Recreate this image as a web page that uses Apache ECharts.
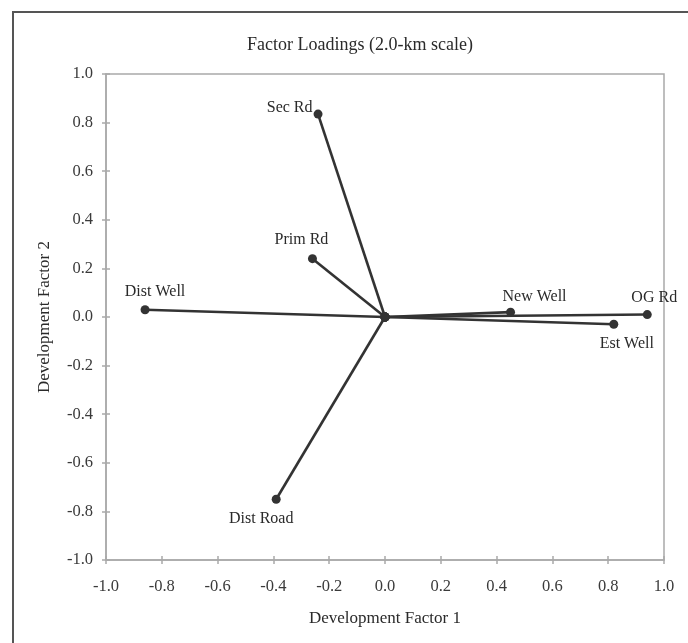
<!DOCTYPE html>
<html>
<head>
<meta charset="utf-8">
<script src="https://cdn.jsdelivr.net/npm/echarts@6/dist/echarts.min.js"></script>
<style>
  html, body { margin: 0; padding: 0; background: #fff; }
  #main { width: 688px; height: 643px; }
</style>
</head>
<body>
<div id="main"></div>
<script>
// factor loadings
const variables = ['Sec Rd', 'Prim Rd', 'Dist Well', 'Dist Road', 'New Well', 'OG Rd', 'Est Well']
const factor1 = [-0.24, -0.26, -0.86, -0.39, 0.45, 0.94, 0.82]
const factor2 = [0.835, 0.24, 0.03, -0.75, 0.02, 0.01, -0.03]

// where each name sits relative to its dot
const labelPlace = {
  'Sec Rd': { position: 'left', distance: 1, offset: [0, -6] },
  'Prim Rd': { position: 'top', distance: 6, offset: [-11, 0] },
  'Dist Well': { position: 'top', distance: 5, offset: [10, 0] },
  'Dist Road': { position: 'bottom', distance: 7, offset: [-15, 0] },
  'New Well': { position: 'top', distance: 3, offset: [24, 0] },
  'OG Rd': { position: 'top', distance: 4, offset: [7, 0] },
  'Est Well': { position: 'bottom', distance: 7, offset: [13, 0] }
}

const serif = '"Liberation Serif", "DejaVu Serif", serif'
const axisGrey = '#a9a9a9'
const ink = '#333333'
const W = 558, H = 486

const chart = echarts.init(document.getElementById('main'))

const series = variables.map((name, i) => {
  const place = labelPlace[name]
  return {
    name: name,
    type: 'line',
    data: [
      [0, 0],
      {
        value: [factor1[i], factor2[i]],
        label: {
          show: true,
          formatter: name,
          position: place.position,
          distance: place.distance,
          offset: place.offset
        }
      }
    ],
    symbol: 'circle',
    symbolSize: 9,
    showSymbol: true,
    itemStyle: { color: ink },
    lineStyle: { color: ink, width: 2.6 },
    label: {
      show: false,
      fontFamily: serif,
      fontSize: 16,
      color: '#2a2a2a'
    },
    emphasis: { disabled: true },
    z: 3
  }
})

const valueAxisBase = {
  type: 'value',
  min: -1,
  max: 1,
  interval: 0.2,
  splitLine: { show: false }
}

// a second, flipped pair of axes only draws the inner half of the crossing ticks
const innerTicks = {
  axisLine: { show: true, onZero: false, lineStyle: { color: 'rgba(0,0,0,0)' } },
  axisTick: { show: true, inside: false, length: 4, lineStyle: { color: axisGrey, width: 1.5 } },
  axisLabel: { show: false }
}

const option = {
  animation: false,
  backgroundColor: '#fff',
  title: {
    text: 'Factor Loadings (2.0-km scale)',
    left: 355,
    top: 31,
    textAlign: 'center',
    textStyle: { fontFamily: serif, fontSize: 18, fontWeight: 'normal', color: '#2a2a2a' }
  },
  graphic: [{
    type: 'rect',
    shape: { x: 13, y: 12, width: 1000, height: 1000 },
    style: { fill: 'none', stroke: '#555', lineWidth: 2 },
    silent: true
  }],
  grid: {
    left: 106,
    top: 74,
    width: W,
    height: H,
    show: true,
    borderColor: axisGrey,
    borderWidth: 1.5
  },
  xAxis: [Object.assign({}, valueAxisBase, {
    position: 'bottom',
    name: 'Development Factor 1',
    nameLocation: 'middle',
    nameGap: 50,
    nameTextStyle: { fontFamily: serif, fontSize: 17, color: '#2a2a2a' },
    axisLine: { show: true, onZero: false, lineStyle: { color: axisGrey, width: 1.5 } },
    axisTick: { show: true, inside: false, length: 4, lineStyle: { color: axisGrey, width: 1.5 } },
    axisLabel: {
      margin: 18,
      fontFamily: serif,
      fontSize: 16.5,
      color: '#3a3a3a',
      formatter: v => v.toFixed(1)
    }
  }), Object.assign({}, valueAxisBase, innerTicks, {
    position: 'top',
    offset: -H
  })],
  yAxis: [Object.assign({}, valueAxisBase, {
    position: 'left',
    name: 'Development Factor 2',
    nameLocation: 'middle',
    nameGap: 53,
    nameTextStyle: { fontFamily: serif, fontSize: 17, color: '#2a2a2a' },
    axisLine: { show: true, onZero: false, lineStyle: { color: axisGrey, width: 1.5 } },
    axisTick: { show: true, inside: false, length: 4, lineStyle: { color: axisGrey, width: 1.5 } },
    axisLabel: {
      margin: 13,
      fontFamily: serif,
      fontSize: 16.5,
      color: '#3a3a3a',
      formatter: v => v.toFixed(1)
    }
  }), Object.assign({}, valueAxisBase, innerTicks, {
    position: 'right',
    offset: -W
  })],
  series: series
}

chart.setOption(option)
</script>
</body>
</html>
